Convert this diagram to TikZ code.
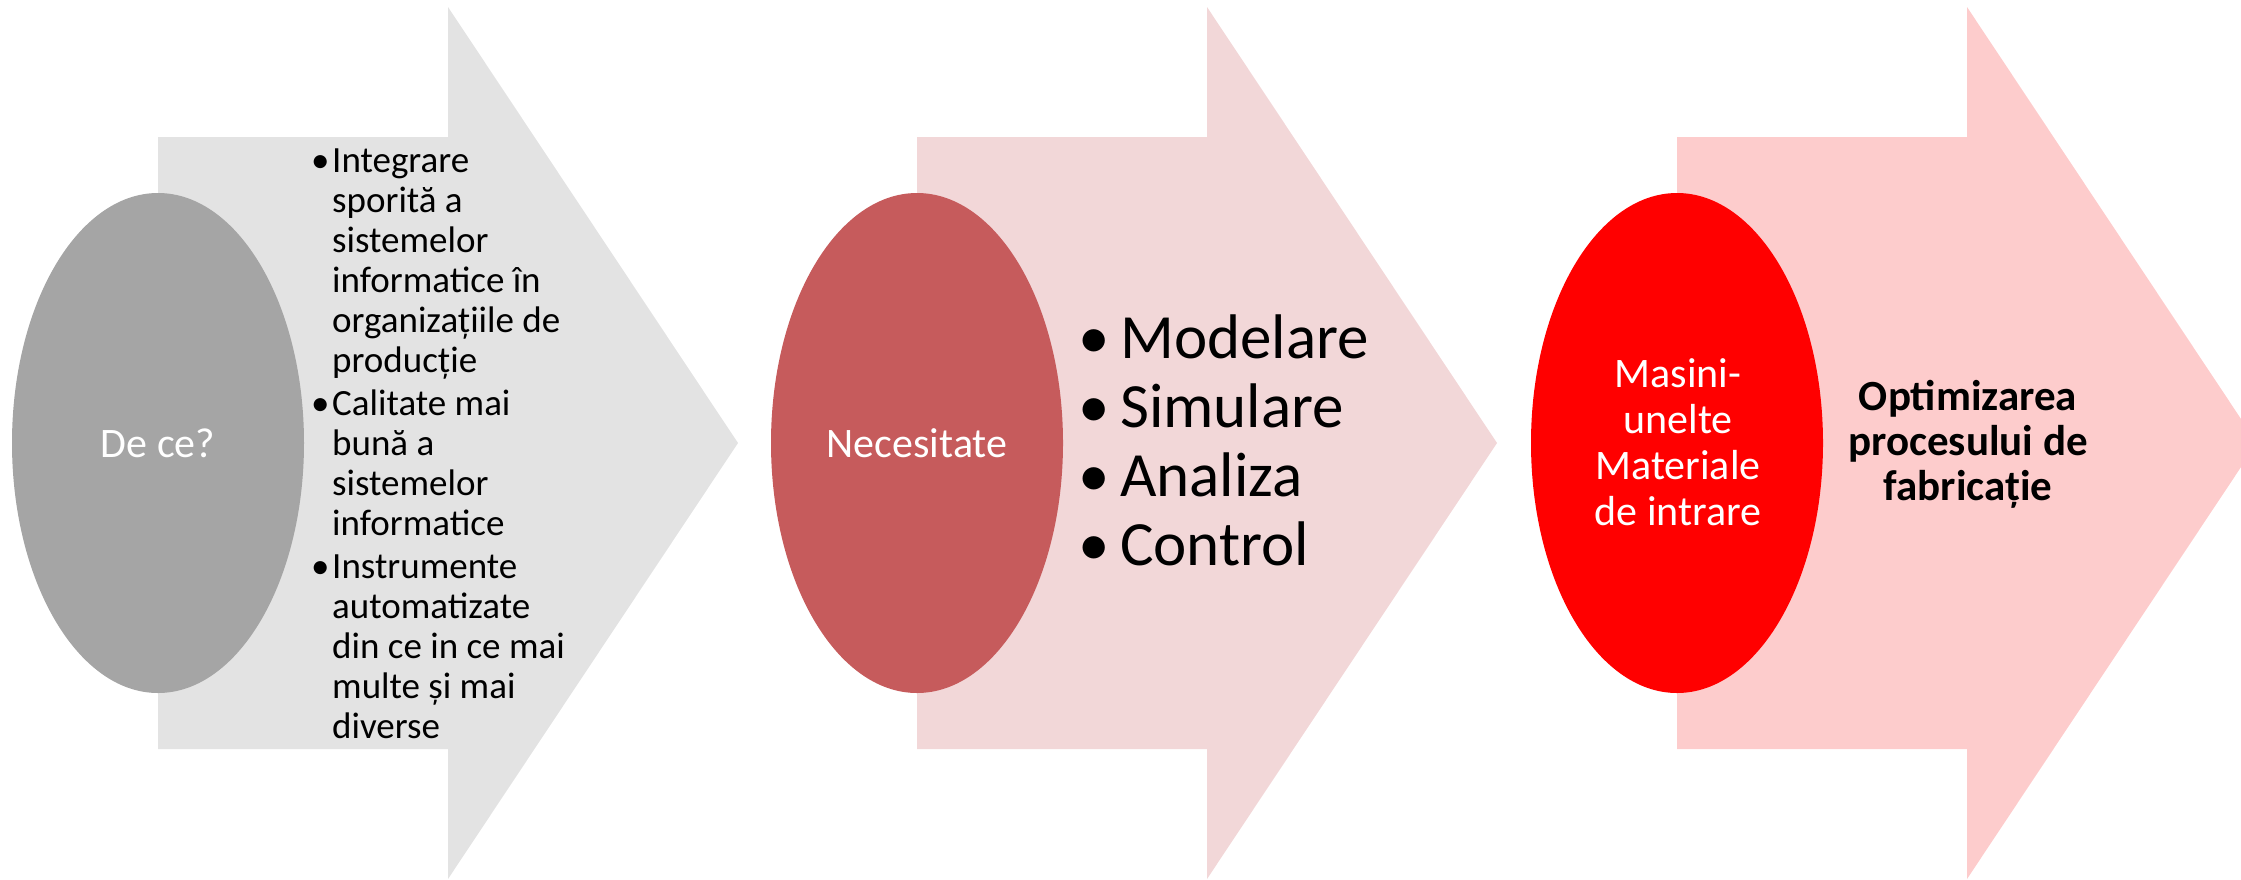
\documentclass[tikz,border=0pt]{standalone}
\usepackage{fontspec}
\setmainfont{Carlito}
\usetikzlibrary{shapes.geometric}
\definecolor{greyarrow}{HTML}{E3E3E3}
\definecolor{greydisc}{HTML}{A5A5A5}
\definecolor{rosearrow}{HTML}{F2D7D8}
\definecolor{rosedisc}{HTML}{C65B5C}
\definecolor{pinkarrow}{HTML}{FDCCCC}
\definecolor{reddisc}{HTML}{FF0000}
\begin{document}
\begin{tikzpicture}[x=1pt,y=-1pt,
  disc/.style={ellipse, minimum width=292pt, minimum height=500pt, inner sep=0pt, draw=none},
  disctext/.style={text=white, inner sep=0pt, anchor=base, font=\fontsize{42}{46}\selectfont},
  listtext/.style={inner sep=0pt, anchor=base west, text=black},
  bigarrow/.pic={\fill[pic actions] (0,137) -- (290,137) -- (290,7) -- (580,443)
                   -- (290,879) -- (290,749) -- (0,749) -- cycle;}]
\useasboundingbox (0,0) rectangle (2241,879);
\clip (0,0) rectangle (2241,879);

% block arrows
\pic[fill=greyarrow] at (158,0) {bigarrow};
\pic[fill=rosearrow] at (917,0) {bigarrow};
\pic[fill=pinkarrow] at (1677,0) {bigarrow};

% discs
\node[disc, fill=greydisc] (whydisc) at (158,443) {};
\node[disc, fill=rosedisc] (needdisc) at (917,443) {};
\node[disc, fill=reddisc] (inputdisc) at (1677,443) {};

\node[disctext] (why) at (158,457) {De ce?};
\node[disctext] (need) at (917,457) {Necesitate};
\node[disctext] (input) at (1678,387) {\begin{tabular}[t]{@{}c@{}}Masini-\\unelte\\Materiale\\de intrare\end{tabular}};

% lists
\node[listtext, font=\fontsize{37}{40}\selectfont] (whylist) at (311,172)
 {\begin{tabular}[t]{@{}l@{}l@{}}
  \makebox[21pt][l]{•}&Integrare\\
  &sporită a\\
  &sistemelor\\
  &informatice în\\
  &organizațiile de\\
  &producție\\[3pt]
  \makebox[21pt][l]{•}&Calitate mai\\
  &bună a\\
  &sistemelor\\
  &informatice\\[3pt]
  \makebox[21pt][l]{•}&Instrumente\\
  &automatizate\\
  &din ce in ce mai\\
  &multe și mai\\
  &diverse
 \end{tabular}};

\node[listtext, font=\fontsize{63}{69}\selectfont] (needlist) at (1078,358)
 {\begin{tabular}[t]{@{}l@{}l@{}}
  \makebox[42pt][l]{•}&Modelare\\
  \makebox[42pt][l]{•}&Simulare\\
  \makebox[42pt][l]{•}&Analiza\\
  \makebox[42pt][l]{•}&Control
 \end{tabular}};

\node[inner sep=0pt, anchor=base, font=\fontsize{43}{45}\selectfont\bfseries] (goal) at (1968,410)
 {\begin{tabular}[t]{@{}c@{}}Optimizarea\\procesului de\\fabricație\end{tabular}};
\end{tikzpicture}
\end{document}
